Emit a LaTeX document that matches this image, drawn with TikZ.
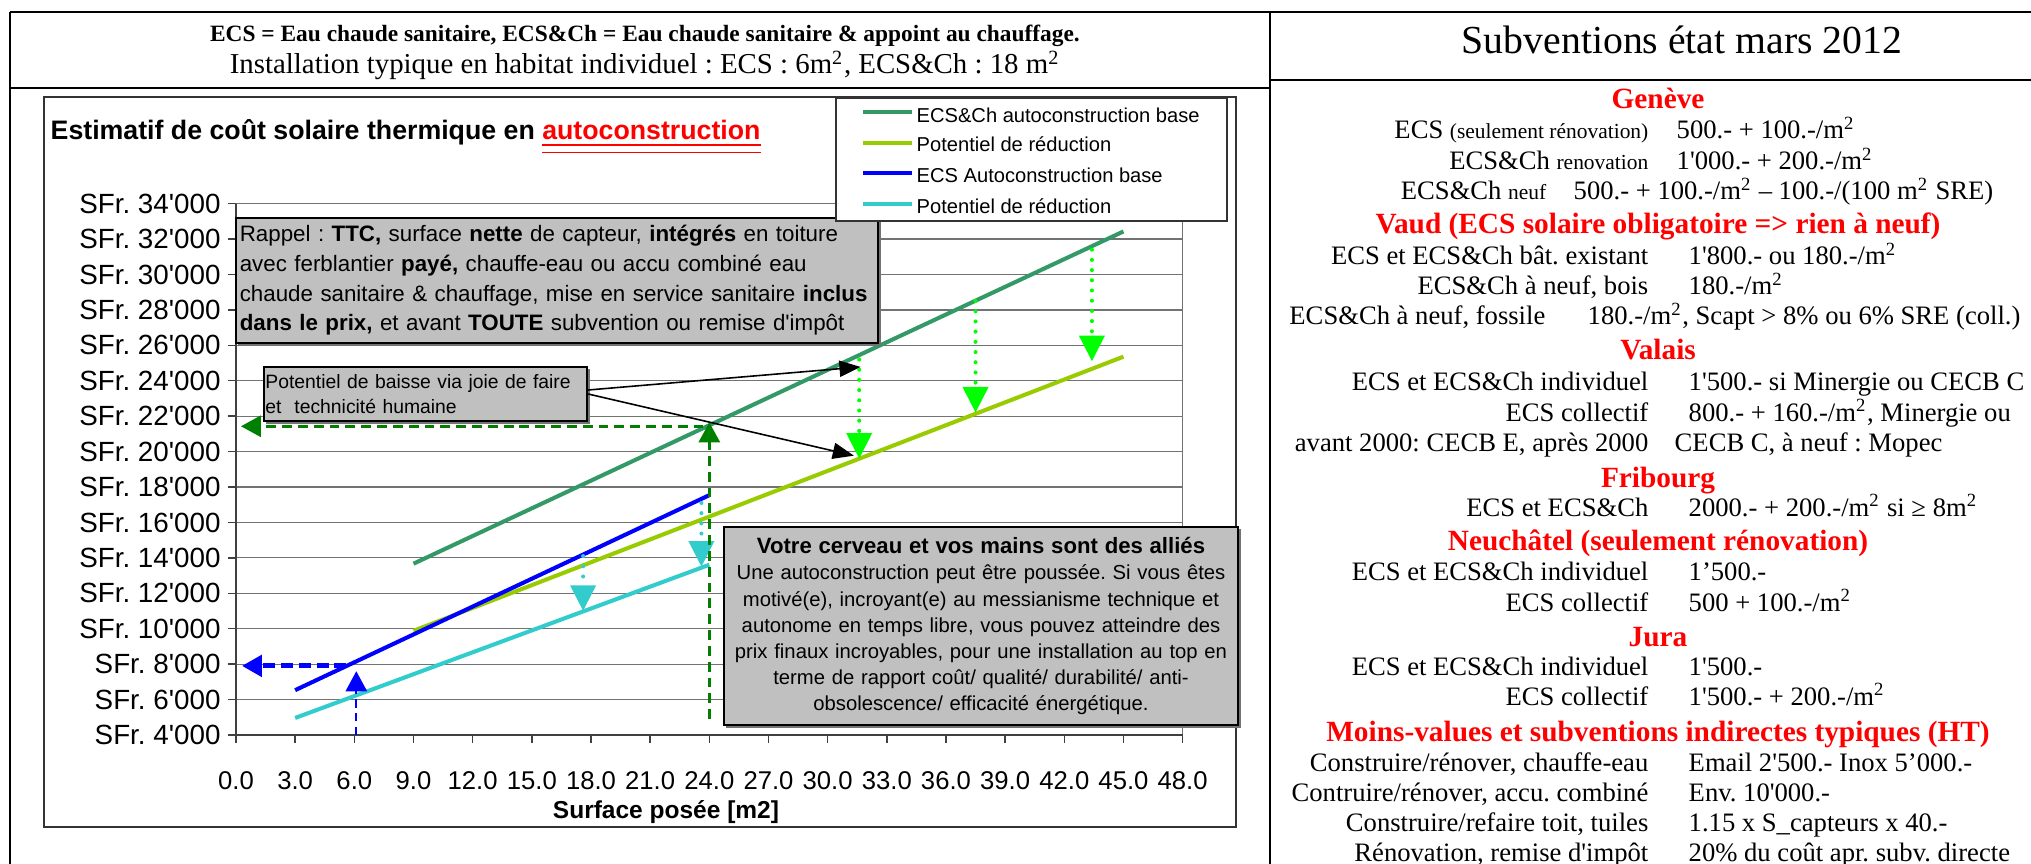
\documentclass[tikz,border=0pt]{standalone}
\usepackage{fontspec}
\setmainfont{Liberation Serif}[Ligatures=TeXOff]
\newfontfamily\chartfont{Liberation Sans}[Ligatures=TeXOff]
\usetikzlibrary{arrows.meta,shadows}
\frenchspacing

\definecolor{chbase}{HTML}{339966}
\definecolor{chred}{HTML}{99CC00}
\definecolor{ecsbase}{HTML}{0000FF}
\definecolor{ecsred}{HTML}{33CCCC}
\definecolor{dotgreen}{HTML}{00FF00}
\definecolor{dashgreen}{HTML}{008000}
\definecolor{boxgray}{HTML}{C0C0C0}

\newcommand{\petit}{\fontsize{6.1}{7}\selectfont}
\newcommand{\mcarre}{m\textsuperscript{2}}

\tikzset{
  rule/.style={line width=0.8pt},
  chartedge/.style={draw=black!80,line width=0.4pt},
  gridln/.style={draw=black!55,line width=0.35pt},
  axisln/.style={draw=black!75,line width=0.4pt},
  chbaseln/.style={draw=chbase,line width=1.15pt},
  chredln/.style={draw=chred,line width=1.15pt},
  ecsbaseln/.style={draw=ecsbase,line width=1.15pt},
  ecsredln/.style={draw=ecsred,line width=1.15pt},
  dotarrow/.style={draw=#1,line width=1.15pt,line cap=round,dash pattern=on 0pt off 2.9pt,
    -{Triangle[length=7.3pt,width=7.1pt]}},
  dasharrow/.style={draw=#1,line width=0.85pt,dash pattern=on 2.8pt off 1.7pt,
    -{Triangle[length=5.7pt,width=6pt]}},
  pointer/.style={draw=black,line width=0.45pt,-{Triangle[length=6pt,width=4.6pt]}},
  notebox/.style={draw=black,fill=boxgray,line width=0.6pt,inner ysep=0pt,
    drop shadow={shadow xshift=0.025cm,shadow yshift=-0.025cm,fill=black!55,opacity=1}},
  headbold/.style={inner sep=0pt,anchor=base,font=\fontsize{6.65}{8}\selectfont\bfseries},
  headtext/.style={inner sep=0pt,anchor=base,font=\fontsize{8.2}{9.8}\selectfont},
  titre/.style={inner sep=0pt,anchor=base,font=\fontsize{11.3}{13.5}\selectfont},
  lab/.style={anchor=base east,font=\fontsize{7.57}{8.7}\selectfont},
  val/.style={anchor=base west,font=\fontsize{7.57}{8.7}\selectfont},
  canton/.style={anchor=base,text=red,font=\fontsize{8.34}{9.6}\selectfont\bfseries},
  ylab/.style={inner sep=0pt,anchor=east,font=\chartfont\fontsize{7.9}{9}\selectfont},
  xlab/.style={inner sep=0pt,anchor=center,font=\chartfont\fontsize{7.3}{9}\selectfont},
  legtext/.style={inner sep=0pt,anchor=west,font=\chartfont\fontsize{5.72}{7}\selectfont}
}

\begin{document}
\begin{tikzpicture}[x=0.01cm,y=-0.01cm]
\useasboundingbox (0,0) rectangle (2031,864);

\draw[rule] (10,12) -- (2031,12);
\draw[rule] (10,12) -- (10,864);
\draw[rule] (1270,12) -- (1270,864);
\draw[rule] (10,88) -- (1270,88);
\draw[rule] (1270,80) -- (2031,80);

\node[headbold] (entete) at (645,42) {ECS = Eau chaude sanitaire, ECS\&Ch = Eau chaude sanitaire \& appoint au chauffage.};
\node[headtext] (installation) at (645,74) {Installation typique en habitat individuel : ECS : 6\mcarre, ECS\&Ch : 18 \mcarre};
\node[titre] (subventions) at (1682,54) {Subventions état mars 2012};

\draw[chartedge] (44,97) rectangle (1236,827);
\node[inner sep=0pt,anchor=base west,font=\chartfont\fontsize{7.6}{9}\selectfont\bfseries] (estimatif) at (50,140)
  {Estimatif de coût solaire thermique en \textcolor{red}{\underline{\underline{autoconstruction}}}};

\begin{scope}[shift={(236,805.8)},x=0.1971cm,y=0.177cm]
  \foreach \v in {4,6,...,34} {
    \draw[gridln] (0,\v) -- (48,\v);
    \draw[axisln] (-0.4,\v) -- (0,\v);
    \node[ylab] (y\v) at (-0.75,\v) {SFr. \v'000};
  }
  \foreach \x in {0,3,...,48} {
    \draw[axisln] (\x,4) -- (\x,3.55);
    \node[xlab] (x\x) at (\x,1.42) {\x.0};
  }
  \draw[gridln] (48,4) -- (48,34);
  \draw[axisln] (0,4) -- (0,34);
  \draw[axisln] (0,4) -- (48,4);

  \draw[chbaseln] (9,13.67) -- (45,32.43);
  \draw[chredln] (9,9.88) -- (45,25.36);
  \draw[ecsredln] (3,4.96) -- (24,13.61);
  \draw[ecsbaseln] (3,6.53) -- (24,17.54);

  \coordinate (a1s) at (31.6,25.2);  \coordinate (a1e) at (31.6,19.6);
  \coordinate (a2s) at (37.5,28.5);  \coordinate (a2e) at (37.5,22.2);
  \coordinate (a3s) at (43.4,31.4);  \coordinate (a3e) at (43.4,25.1);
  \coordinate (c1s) at (17.6,14.1);  \coordinate (c1e) at (17.6,11.0);
  \coordinate (c2s) at (23.6,17.1);  \coordinate (c2e) at (23.6,13.5);
  \coordinate (g0) at (24,4.9);      \coordinate (gt) at (24,21.65);
  \coordinate (g1) at (23.7,21.43);  \coordinate (g2) at (0.25,21.43);
  \coordinate (b0) at (6.1,4);       \coordinate (bt) at (6.1,7.6);
  \coordinate (b1) at (5.6,7.9);     \coordinate (b2) at (0.3,7.9);
  \coordinate (k1) at (31.67,24.78); \coordinate (k2) at (31.33,19.77);

  \draw[dotarrow=dotgreen] (a1s) -- (a1e);
  \draw[dotarrow=dotgreen] (a2s) -- (a2e);
  \draw[dotarrow=dotgreen] (a3s) -- (a3e);
  \draw[dotarrow=ecsred] (c1s) -- (c1e);
  \draw[dotarrow=ecsred] (c2s) -- (c2e);
  \draw[dasharrow=dashgreen] (g0) -- (gt);
  \draw[dasharrow=dashgreen] (g1) -- (g2);
  \draw[dasharrow=ecsbase,line width=0.6pt,dash pattern=on 2.4pt off 1.5pt] (b0) -- (bt);
  \draw[dasharrow=ecsbase,line width=1.4pt,dash pattern=on 3.4pt off 1.7pt] (b1) -- (b2);
\end{scope}

\node[inner sep=0pt,anchor=base,font=\chartfont\fontsize{6.97}{8}\selectfont\bfseries] (surface) at (666,818) {Surface posée [m2]};

\node[notebox,inner xsep=0.04cm,text width=6.34cm,minimum height=1.25cm,align=left,
  font=\chartfont\fontsize{6.35}{8.45}\selectfont] (rappel) at (557,280.5)
  {Rappel : \textbf{TTC,} surface \textbf{nette} de capteur, \textbf{intégrés} en toiture\\
   avec ferblantier \textbf{payé,} chauffe-eau ou accu combiné eau\\
   chaude sanitaire \& chauffage, mise en service sanitaire \textbf{inclus}\\
   \textbf{dans le prix,} et avant \textbf{TOUTE} subvention ou remise d'impôt};

\node[notebox,inner xsep=0.015cm,text width=3.2cm,minimum height=0.54cm,align=left,
  font=\chartfont\fontsize{5.5}{7.1}\selectfont] (potentiel) at (425.5,394)
  {Potentiel de baisse via joie de faire\\ et\ \ technicité humaine};

\node[notebox,inner xsep=0.07cm,text width=5.0cm,minimum height=1.98cm,align=center,
  font=\chartfont\fontsize{5.76}{7.4}\selectfont] (votre) at (981,626)
  {{\fontsize{6.3}{7.5}\selectfont\bfseries Votre cerveau et vos mains sont des alliés}\\
   Une autoconstruction peut être poussée. Si vous êtes\\
   motivé(e), incroyant(e) au messianisme technique et\\
   autonome en temps libre, vous pouvez atteindre des\\
   prix finaux incroyables, pour une installation au top en\\
   terme de rapport coût/ qualité/ durabilité/ anti-\\
   obsolescence/ efficacité énergétique.};

\draw[pointer] ([yshift=0.04cm]potentiel.east) -- (k1);
\draw[pointer] (potentiel.east) -- (k2);

\node[draw=black!80,fill=white,line width=0.4pt,minimum width=3.91cm,minimum height=1.23cm,inner sep=0pt] (legende) at (1031.5,159.5) {};
\draw[chbaseln] (863,112) -- (912,112);
\draw[chredln] (863,143) -- (912,143);
\draw[ecsbaseln] (863,173) -- (912,173);
\draw[ecsredln] (863,204) -- (912,204);
\node[legtext] (leg1) at (916,115) {ECS\&Ch autoconstruction base};
\node[legtext] (leg2) at (916,144.5) {Potentiel de réduction};
\node[legtext] (leg3) at (916,175.5) {ECS Autoconstruction base};
\node[legtext] (leg4) at (916,206) {Potentiel de réduction};

\begin{scope}[every node/.style={inner sep=0pt}]
  \node[canton] (geneve) at (1658,109) {Genève};
  \node[lab] (ge1l) at (1649,139) {ECS {\petit (seulement rénovation)}};
  \node[val] (ge1v) at (1676,139) {500.- + 100.-/\mcarre};
  \node[lab] (ge2l) at (1649,170) {ECS\&Ch {\petit renovation}};
  \node[val] (ge2v) at (1676,170) {1'000.- + 200.-/\mcarre};
  \node[lab] (ge3l) at (1547,200) {ECS\&Ch {\petit neuf}};
  \node[val] (ge3v) at (1573,200) {500.- + 100.-/\mcarre{} – 100.-/(100 \mcarre{} SRE)};
  \node[canton] (vaud) at (1658,234) {Vaud (ECS solaire obligatoire => rien à neuf)};
  \node[lab] (vd1l) at (1649,265) {ECS et ECS\&Ch bât. existant};
  \node[val] (vd1v) at (1688,265) {1'800.- ou 180.-/\mcarre};
  \node[lab] (vd2l) at (1649,295) {ECS\&Ch à neuf, bois};
  \node[val] (vd2v) at (1688,295) {180.-/\mcarre};
  \node[lab] (vd3l) at (1546,325) {ECS\&Ch à neuf, fossile};
  \node[val] (vd3v) at (1587,325) {180.-/\mcarre, Scapt > 8\% ou 6\% SRE (coll.)};
  \node[canton] (valais) at (1658,360) {Valais};
  \node[lab] (vs1l) at (1649,390) {ECS et ECS\&Ch individuel};
  \node[val] (vs1v) at (1688,390) {1'500.- si Minergie ou CECB C};
  \node[lab] (vs2l) at (1649,421) {ECS collectif};
  \node[val] (vs2v) at (1688,421) {800.- + 160.-/\mcarre, Minergie ou};
  \node[lab] (vs3l) at (1649,451) {avant 2000: CECB E, après 2000};
  \node[val] (vs3v) at (1674,451) {CECB C, à neuf : Mopec};
  \node[canton] (fribourg) at (1658,487) {Fribourg};
  \node[lab] (fr1l) at (1649,516) {ECS et ECS\&Ch};
  \node[val] (fr1v) at (1688,516) {2000.- + 200.-/\mcarre{} si ≥ 8\mcarre};
  \node[canton] (neuchatel) at (1658,550) {Neuchâtel (seulement rénovation)};
  \node[lab] (ne1l) at (1649,580) {ECS et ECS\&Ch individuel};
  \node[val] (ne1v) at (1688,580) {1’500.-};
  \node[lab] (ne2l) at (1649,611) {ECS collectif};
  \node[val] (ne2v) at (1688,611) {500 + 100.-/\mcarre};
  \node[canton] (jura) at (1658,646) {Jura};
  \node[lab] (ju1l) at (1649,675) {ECS et ECS\&Ch individuel};
  \node[val] (ju1v) at (1688,675) {1'500.-};
  \node[lab] (ju2l) at (1649,705) {ECS collectif};
  \node[val] (ju2v) at (1688,705) {1'500.- + 200.-/\mcarre};
  \node[canton] (moins) at (1658,741) {Moins-values et subventions indirectes typiques (HT)};
  \node[lab] (mv1l) at (1649,771) {Construire/rénover, chauffe-eau};
  \node[val] (mv1v) at (1688,771) {Email 2'500.- Inox 5’000.-};
  \node[lab] (mv2l) at (1649,801) {Contruire/rénover, accu. combiné};
  \node[val] (mv2v) at (1688,801) {Env. 10'000.-};
  \node[lab] (mv3l) at (1649,831) {Construire/refaire toit, tuiles};
  \node[val] (mv3v) at (1688,831) {1.15 x S\_capteurs x 40.-};
  \node[lab] (mv4l) at (1649,861) {Rénovation, remise d'impôt};
  \node[val] (mv4v) at (1688,861) {20\% du coût apr. subv. directe};
\end{scope}

\end{tikzpicture}
\end{document}
